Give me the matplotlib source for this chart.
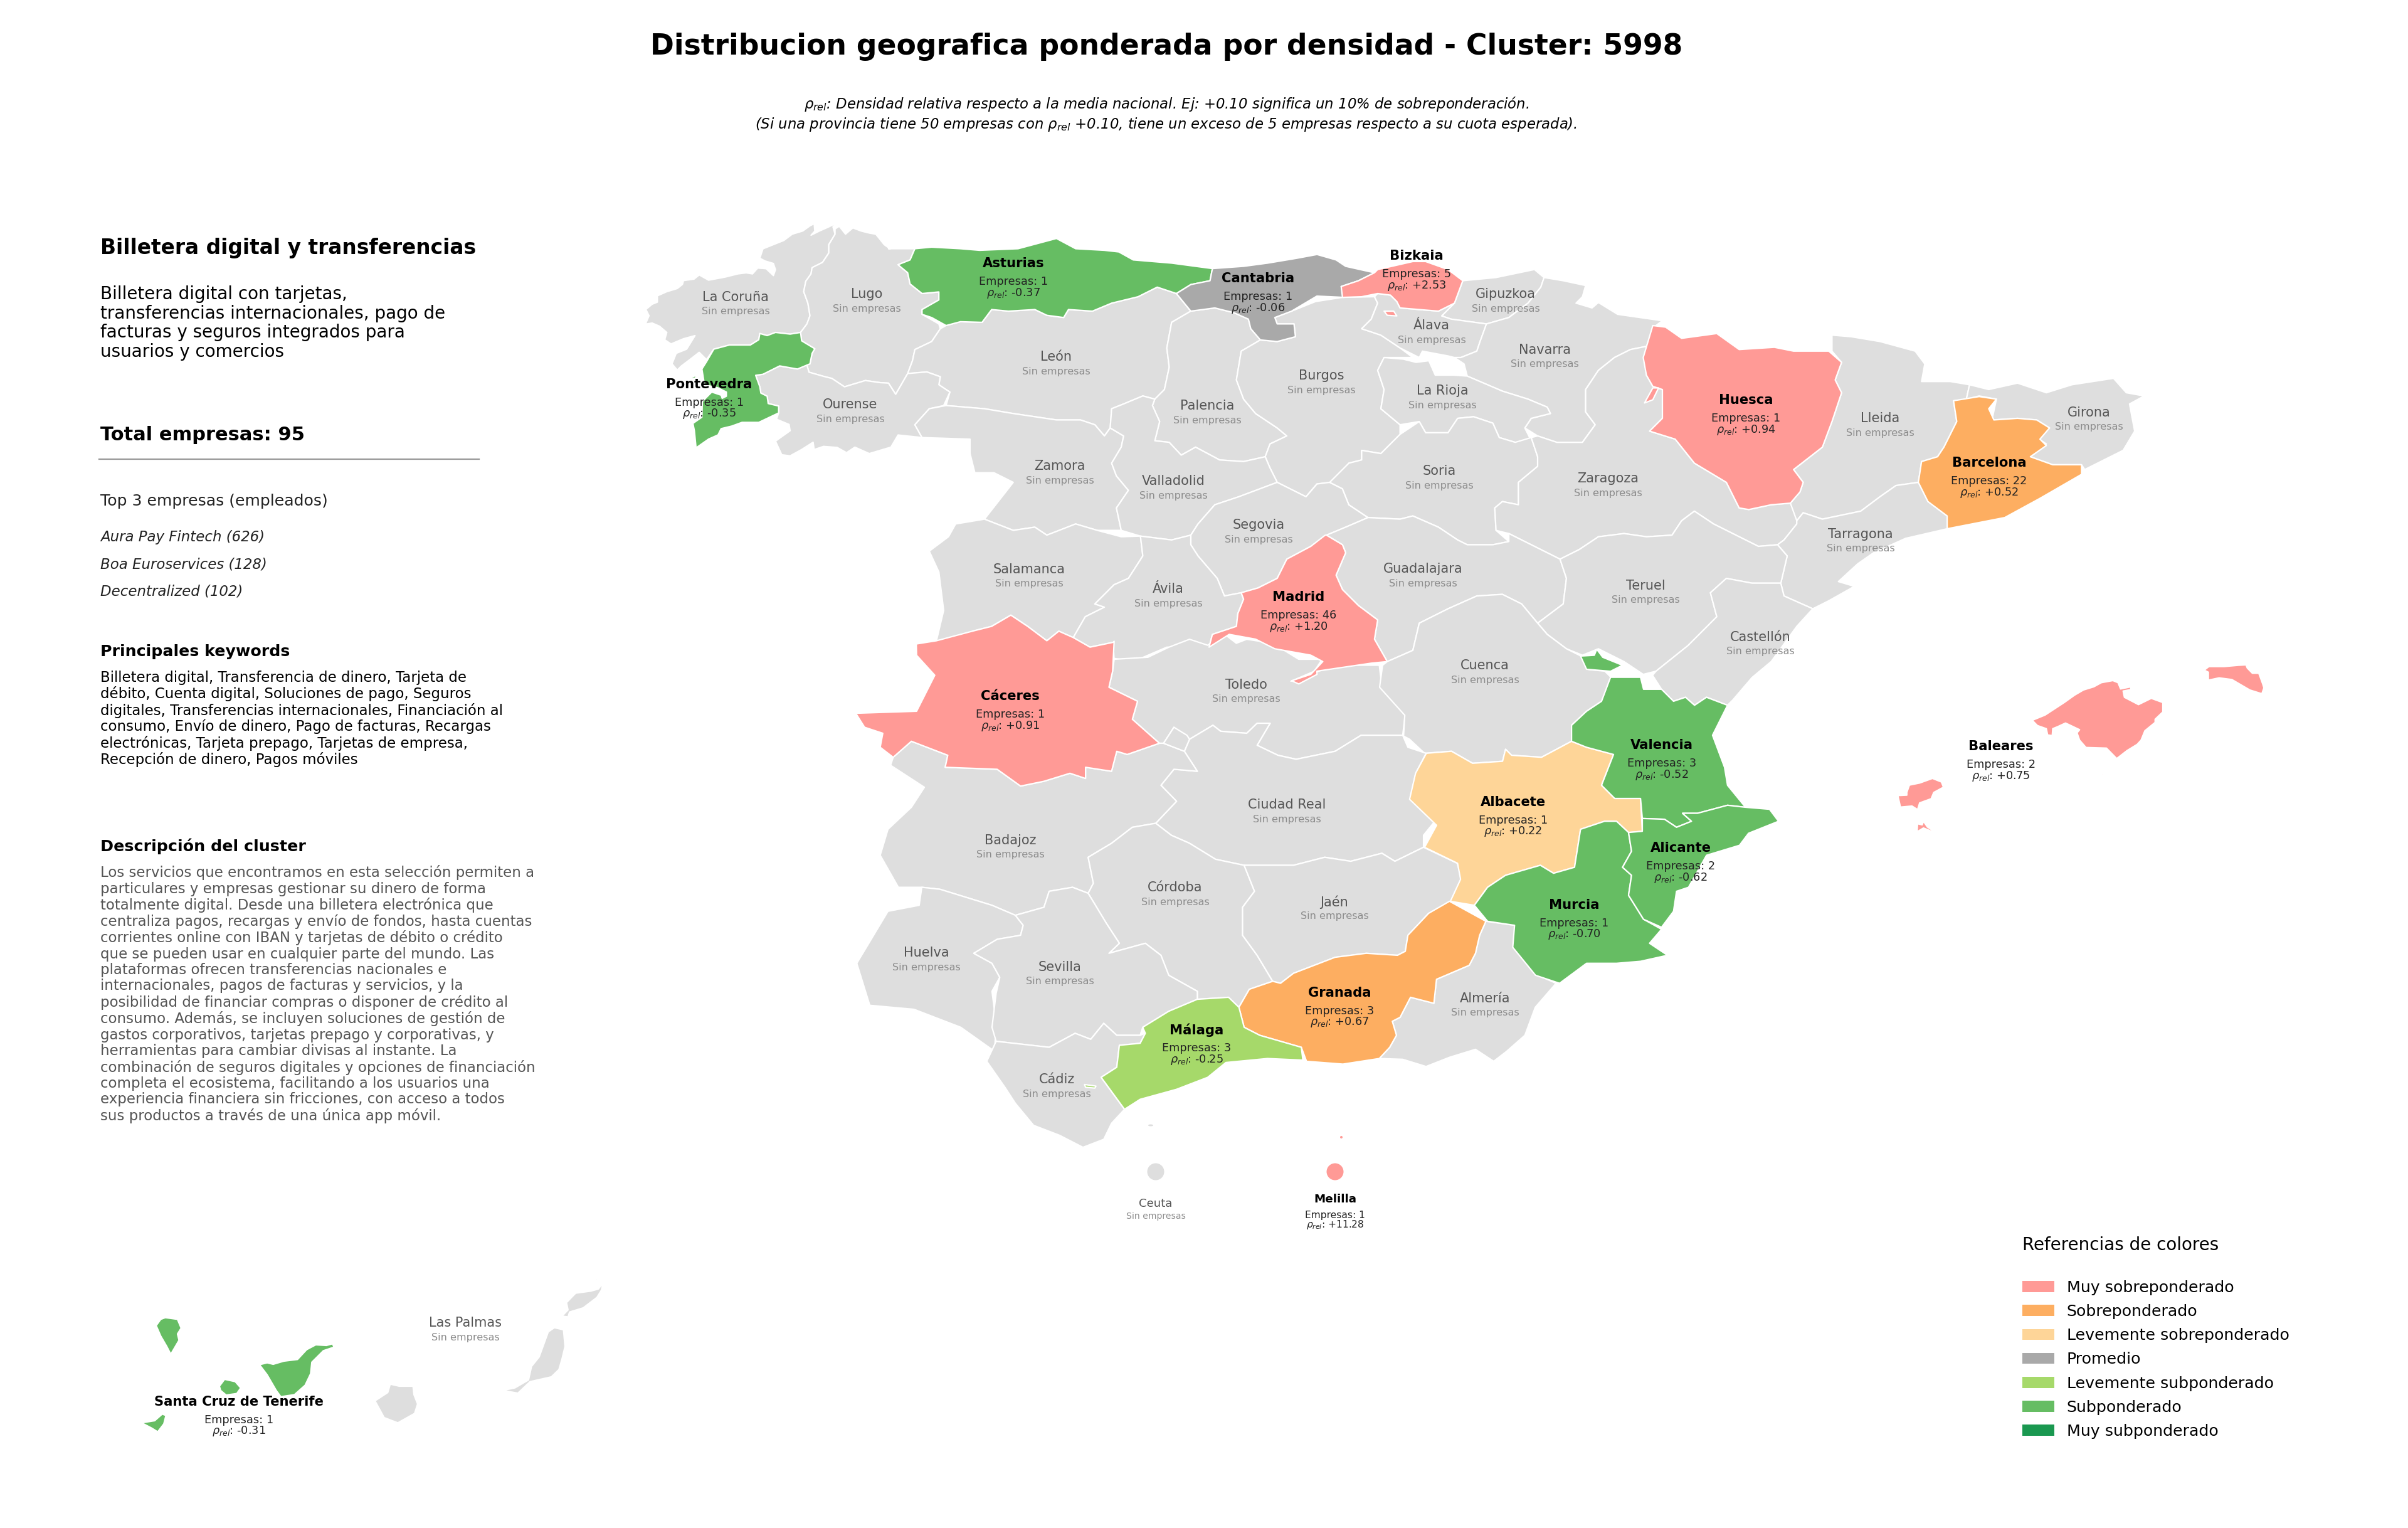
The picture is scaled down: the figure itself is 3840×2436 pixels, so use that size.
import matplotlib
matplotlib.use("Agg")
import matplotlib.pyplot as plt
from matplotlib.patches import Patch, Ellipse

# hojas ampliadas sobre las que se leyeron los contornos: x0, y0, escala x, escala y
HOJAS = {
    "NO": (950, 320, 1200 / 1568, 800 / 1568),
    "NE": (2100, 320, 1600 / 1568, 800 / 1568),
    "SO": (1300, 1000, 1300 / 1568, 1000 / 1568),
    "SE": (2200, 1000, 1500 / 1568, 1000 / 1568),
    "GA": (1020, 340, 1 / 3, 1 / 3),
    "BA": (3000, 1040, 640 / 1568, 1 / 3),
    "CI": (220, 2020, 760 / 1568, 1 / 3),
}


def hoja(nombre, puntos):
    x0, y0, sx, sy = HOJAS[nombre]
    return [(x0 + sx * x, y0 + sy * y) for x, y in puntos]


# contornos de provincias
la_coruna = hoja("GA", [(28, 530), (45, 490), (30, 460), (60, 435), (85, 425), (85, 395), (130, 375), (180, 360), (205, 340), (210, 322), (260, 315), (285, 295), (330, 320), (410, 305), (470, 290), (510, 285), (540, 290), (565, 262), (605, 265), (640, 298), (650, 270), (640, 240), (600, 228), (575, 215), (590, 170), (640, 150), (690, 130), (730, 100), (780, 85), (815, 60), (835, 50), (838, 85), (820, 105), (860, 85), (905, 65), (945, 45), (925, 65), (935, 100), (905, 150), (905, 190), (875, 235), (825, 260), (820, 290), (795, 325), (785, 375), (805, 430), (815, 490), (800, 530), (770, 570), (720, 578), (650, 570), (610, 585), (575, 575), (570, 605), (530, 630), (430, 630), (355, 650), (320, 700), (285, 665), (240, 700), (200, 730), (180, 750), (155, 720), (175, 670), (225, 650), (265, 585), (210, 600), (150, 625), (120, 605), (130, 570), (95, 540), (60, 525)])
lugo = hoja("GA", [(935, 75), (955, 62), (985, 100), (1020, 70), (1060, 85), (1100, 95), (1130, 100), (1170, 150), (1198, 170)]) + hoja("NO", [(610, 150), (665, 150), (655, 185), (630, 200), (650, 225), (655, 260), (680, 290), (715, 285), (715, 310), (680, 340), (680, 355), (715, 385), (718, 400), (700, 440), (665, 465), (660, 500), (650, 540), (625, 605), (610, 570)]) + hoja("GA", [(1150, 810), (1080, 800), (1030, 815), (980, 830), (920, 790), (880, 780), (810, 760), (800, 725), (815, 720), (825, 670), (838, 648), (775, 610), (770, 570), (800, 530), (815, 490), (805, 430), (785, 375), (795, 325), (820, 290), (825, 260), (875, 235), (905, 190), (905, 150), (935, 100)])
pontevedra = hoja("GA", [(770, 570), (775, 610), (838, 648), (825, 670), (815, 720), (755, 745), (670, 730), (590, 770), (555, 775), (575, 830), (580, 860), (610, 875), (615, 910), (665, 922), (665, 955), (570, 1000), (490, 1000), (440, 1018), (390, 1030), (375, 1060), (330, 1080), (270, 1122), (262, 1040), (255, 1005), (298, 975), (300, 900), (345, 855), (390, 870), (395, 885), (415, 875), (415, 855), (375, 835), (310, 820), (298, 745), (320, 710), (355, 650), (430, 630), (530, 630), (570, 605), (575, 575), (610, 585), (650, 570), (720, 578)])
pontevedra_ons = hoja("GA", [(235, 790), (255, 782), (270, 775), (268, 788), (245, 792)])
ourense = hoja("GA", [(555, 775), (590, 770), (670, 730), (755, 745), (800, 725), (810, 760), (880, 780), (920, 790), (980, 830), (1030, 815), (1080, 800), (1150, 810)]) + hoja("NO", [(610, 570), (625, 605), (650, 540), (690, 535), (718, 550), (715, 575), (738, 598), (725, 640), (695, 650), (665, 700), (680, 740), (630, 732), (615, 770), (570, 790), (540, 770)]) + hoja("GA", [(990, 1145), (945, 1120), (880, 1115), (835, 1130), (830, 1095), (775, 1130), (720, 1160), (680, 1155), (650, 1090), (720, 1040), (715, 1010), (655, 985), (665, 955), (665, 922), (615, 910), (610, 875), (580, 860), (575, 830)])
asturias = hoja("NO", [(665, 150), (700, 145), (760, 150), (800, 155), (880, 150), (930, 130), (960, 118), (1000, 150), (1060, 155), (1090, 160), (1120, 185), (1200, 195), (1285, 212), (1280, 250), (1240, 262), (1210, 290), (1170, 270), (1130, 300), (1075, 320), (1035, 345), (985, 340), (975, 365), (940, 358), (915, 340), (860, 345), (825, 340), (805, 380), (760, 378), (730, 390), (700, 365), (680, 355), (680, 340), (715, 310), (715, 285), (680, 290), (655, 260), (650, 225), (630, 200), (655, 185)])
cantabria = hoja("NO", [(1285, 212), (1350, 205), (1400, 195), (1460, 180), (1503, 168)]) + hoja("NE", [(30, 185), (45, 205), (90, 225), (65, 250), (38, 268), (42, 302), (0, 298)]) + hoja("NO", [(1450, 345), (1415, 365), (1420, 385), (1455, 385), (1458, 425), (1420, 440), (1385, 435), (1365, 400), (1360, 370), (1330, 350), (1290, 335), (1240, 345), (1210, 290), (1240, 262), (1280, 250)])
leon = hoja("NO", [(730, 390), (760, 378), (805, 380), (825, 340), (860, 345), (915, 340), (940, 358), (975, 365), (985, 340), (1035, 345), (1075, 320), (1130, 300), (1170, 270), (1210, 290), (1240, 345), (1200, 380), (1190, 460), (1195, 520), (1185, 590), (1165, 620), (1140, 610), (1100, 635), (1075, 650), (1072, 710), (1060, 735), (1040, 700), (1010, 685), (960, 685), (870, 665), (810, 650), (730, 640), (738, 598), (715, 575), (718, 550), (690, 535), (650, 540), (660, 500), (665, 465), (700, 440), (718, 400)])
palencia = hoja("NO", [(1240, 345), (1290, 335), (1330, 350), (1360, 370), (1365, 400), (1385, 435), (1345, 470), (1335, 560), (1350, 620), (1375, 665), (1400, 690), (1420, 710), (1440, 735), (1405, 760), (1395, 800), (1350, 815), (1300, 810), (1250, 770), (1220, 795), (1195, 755), (1165, 750), (1175, 690), (1160, 640), (1165, 620), (1185, 590), (1195, 520), (1190, 460), (1200, 380)])
burgos = hoja("NO", [(1385, 435), (1420, 440), (1458, 425), (1455, 385), (1420, 385), (1415, 365), (1450, 345), (1500, 315)]) + hoja("NE", [(40, 302), (90, 300), (95, 320), (85, 370), (70, 400), (100, 420), (130, 460), (150, 490), (105, 490), (95, 530), (105, 590), (100, 650), (130, 700), (130, 730), (100, 790), (70, 780), (70, 810), (50, 820), (25, 880), (0, 885)]) + hoja("NO", [(1480, 925), (1420, 880), (1405, 835), (1395, 800), (1405, 760), (1440, 735), (1420, 710), (1400, 690), (1375, 665), (1350, 620), (1335, 560), (1345, 470)])
alava = hoja("NE", [(70, 400), (85, 370), (95, 320), (90, 300), (95, 290), (115, 295), (125, 315), (130, 335), (190, 345), (215, 320), (195, 360), (210, 370), (265, 385), (255, 440), (250, 470), (225, 490), (215, 490), (205, 485), (165, 470), (160, 490), (130, 460), (100, 420)])
bizkaia = hoja("NE", [(90, 225), (95, 215), (150, 190), (170, 190), (205, 215), (228, 250), (215, 320), (190, 345), (130, 335), (125, 315), (115, 295), (95, 290), (70, 300), (40, 302), (38, 268), (65, 250)])
bizkaia_enclave = hoja("NE", [(105, 345), (120, 345), (125, 360), (110, 358)])
gipuzkoa = hoja("NE", [(228, 250), (280, 240), (340, 215), (355, 240), (350, 270), (330, 320), (300, 365), (265, 385), (210, 370), (195, 360), (215, 320)])
navarra = hoja("NE", [(355, 240), (385, 250), (420, 265), (415, 300), (405, 320), (430, 335), (440, 318), (470, 355), (540, 375), (530, 390), (515, 455), (490, 465), (465, 490), (440, 530), (420, 590), (420, 660), (435, 700), (415, 755), (375, 755), (345, 735), (325, 710), (335, 680), (365, 665), (360, 645), (330, 620), (290, 595), (235, 548), (230, 510), (215, 490), (225, 490), (250, 470), (255, 440), (265, 385), (300, 365), (330, 320), (350, 270)])
la_rioja = hoja("NE", [(105, 490), (135, 495), (155, 505), (175, 500), (185, 545), (215, 545), (235, 548), (290, 595), (330, 620), (360, 645), (365, 665), (335, 680), (325, 710), (335, 750), (310, 755), (285, 740), (275, 695), (245, 675), (220, 680), (205, 725), (170, 725), (160, 690), (130, 700), (100, 650), (105, 590), (95, 530)])
soria = hoja("NE", [(130, 730), (160, 690), (170, 725), (205, 725), (220, 680), (245, 675), (275, 695), (285, 740), (310, 755), (335, 740), (345, 800), (345, 830), (315, 880), (315, 950), (290, 940), (278, 960), (280, 1030), (300, 1065), (275, 1075), (235, 1075), (220, 1060), (190, 1020), (150, 985), (130, 995), (80, 990), (50, 950), (40, 900), (20, 880), (50, 820), (70, 810), (70, 780), (100, 790)])
zaragoza = hoja("NE", [(335, 740), (345, 735), (375, 755), (415, 755), (435, 700), (420, 660), (420, 590), (440, 530), (465, 490), (490, 465), (515, 455), (515, 545), (525, 580), (540, 590), (540, 680), (520, 720), (560, 745), (590, 820), (640, 880), (660, 960), (675, 965), (710, 950), (740, 945), (750, 980), (750, 1010), (730, 1060), (720, 1075), (690, 1080), (620, 1010), (590, 970), (570, 1000), (555, 1045), (515, 1050), (480, 1040), (440, 1050), (410, 1090), (380, 1120), (340, 1080), (300, 1040), (280, 1030), (278, 960), (290, 940), (315, 950), (315, 880), (345, 830), (345, 800)])
huesca = hoja("NE", [(525, 390), (545, 395), (570, 430), (625, 415), (660, 465), (715, 458), (745, 470), (800, 470), (820, 505), (810, 560), (820, 600), (805, 690), (790, 770), (745, 840), (760, 880), (755, 910), (740, 945), (710, 950), (675, 965), (660, 960), (640, 880), (590, 820), (560, 745), (520, 720), (540, 680), (540, 590), (525, 580), (515, 545), (510, 490)])
huesca_franja = hoja("NE", [(512, 632), (525, 585), (534, 585), (525, 622)])
lleida = hoja("NE", [(805, 420), (835, 425), (880, 440), (935, 470), (950, 510), (945, 565), (990, 565), (1020, 575), (1015, 620), (995, 625), (1000, 690), (980, 770), (970, 800), (945, 815), (940, 880), (905, 890), (880, 925), (850, 970), (790, 995), (760, 975), (750, 1000), (740, 945), (755, 910), (760, 880), (745, 840), (790, 770), (805, 690), (820, 600), (810, 560), (820, 505), (805, 470)])
girona = hoja("NE", [(1020, 575), (1050, 590), (1095, 570), (1140, 600), (1180, 575), (1245, 555), (1265, 600), (1293, 610), (1270, 635), (1278, 720), (1260, 780), (1200, 840), (1195, 825), (1150, 825), (1115, 800), (1140, 760), (1125, 740), (1145, 710), (1125, 685), (1095, 680), (1055, 685), (1062, 620), (1035, 610), (1015, 620)])
barcelona = hoja("NE", [(995, 625), (1035, 612), (1062, 620), (1050, 650), (1058, 685), (1095, 680), (1125, 685), (1145, 710), (1130, 745), (1140, 765), (1115, 800), (1150, 825), (1195, 825), (1195, 855), (1130, 930), (1075, 990), (985, 1025), (985, 985), (955, 940), (940, 880), (945, 815), (970, 800), (980, 770), (1000, 690)])
tarragona = hoja("NE", [(880, 925), (905, 890), (940, 880), (955, 940), (985, 985), (985, 1025), (920, 1055), (870, 1100), (845, 1135), (815, 1190), (840, 1205), (800, 1250), (775, 1275), (730, 1235), (725, 1195), (735, 1110), (720, 1075), (730, 1060), (750, 1010), (750, 1000), (760, 975), (790, 995), (850, 970)])
teruel = hoja("NE", [(380, 1120), (410, 1090), (440, 1050), (480, 1040), (515, 1050), (555, 1045), (570, 1000), (590, 970), (620, 1010), (690, 1080), (720, 1075), (735, 1110), (725, 1195), (680, 1195), (640, 1180), (615, 1225), (625, 1300), (580, 1390), (530, 1470), (510, 1480), (480, 1440), (440, 1400), (415, 1420), (390, 1400), (360, 1355), (345, 1320), (385, 1260), (390, 1180)])
castellon = hoja("NE", [(615, 1225), (640, 1180), (680, 1195), (725, 1195), (730, 1235), (775, 1275), (750, 1330), (710, 1440), (680, 1490), (650, 1560)]) + hoja("SE", [(580, 195), (545, 175), (525, 195), (510, 175), (490, 185), (470, 155), (455, 120)]) + hoja("NE", [(530, 1470), (580, 1390), (625, 1300)])
guadalajara = hoja("NE", [(15, 1045), (45, 1020), (80, 990), (130, 995), (150, 985), (190, 1020), (220, 1060), (235, 1075), (275, 1075), (300, 1065), (300, 1040), (340, 1080), (380, 1120), (390, 1180), (385, 1260), (345, 1320), (320, 1260), (290, 1230), (250, 1235), (205, 1275), (160, 1320), (150, 1405), (110, 1440), (90, 1370), (95, 1310), (65, 1265), (40, 1215), (30, 1170), (45, 1100), (40, 1075)])
cuenca = hoja("NE", [(110, 1440), (150, 1405), (160, 1320), (205, 1275), (250, 1235), (290, 1230), (320, 1260), (345, 1320), (360, 1355), (390, 1400), (415, 1425), (425, 1465), (450, 1470), (460, 1490)]) + hoja("SE", [(370, 185), (345, 210), (320, 245), (320, 285), (270, 325), (220, 320), (210, 305), (205, 335), (155, 340), (120, 310), (75, 315), (50, 280), (40, 272), (42, 220), (0, 150), (5, 95)])
madrid = hoja("NO", [(1520, 1045), (1490, 1080), (1440, 1120), (1420, 1180), (1380, 1210), (1345, 1225), (1350, 1245), (1338, 1290), (1335, 1330), (1285, 1355), (1278, 1395), (1320, 1355), (1375, 1370), (1415, 1400), (1490, 1420), (1515, 1440), (1490, 1480), (1450, 1500), (1465, 1510), (1503, 1480)]) + hoja("NE", [(0, 1470), (85, 1445), (110, 1440), (90, 1370), (95, 1310), (65, 1265), (40, 1215), (30, 1170), (45, 1100), (40, 1075), (15, 1045)])
segovia = hoja("NO", [(1240, 1045), (1255, 1010), (1290, 950), (1340, 925), (1420, 880), (1480, 925), (1503, 885)]) + hoja("NE", [(20, 880), (40, 900), (50, 950), (80, 990), (45, 1020), (15, 1045)]) + hoja("NO", [(1490, 1080), (1440, 1120), (1420, 1180), (1380, 1210), (1345, 1225), (1310, 1235), (1295, 1180), (1255, 1110), (1240, 1075)])
valladolid = hoja("NO", [(1075, 820), (1095, 770), (1100, 735), (1072, 710), (1075, 650), (1100, 635), (1140, 610), (1165, 620), (1160, 640), (1175, 690), (1165, 750), (1195, 755), (1220, 795), (1250, 770), (1300, 810), (1350, 815), (1395, 800), (1405, 835), (1420, 880), (1340, 925), (1290, 950), (1255, 1010), (1240, 1045), (1200, 1060), (1135, 1048), (1095, 1030), (1085, 960), (1110, 905), (1085, 860)])
zamora = hoja("NO", [(730, 640), (810, 650), (870, 665), (960, 685), (1010, 685), (1040, 700), (1060, 735), (1072, 710), (1100, 735), (1095, 770), (1075, 820), (1085, 860), (1110, 905), (1085, 960), (1095, 1030), (1045, 1030), (1000, 1010), (940, 1045), (915, 1020), (870, 1030), (810, 995), (870, 880), (830, 850), (790, 850), (780, 790), (780, 745), (680, 740), (665, 700), (695, 650)])
salamanca = hoja("NO", [(810, 995), (870, 1030), (915, 1020), (940, 1045), (1000, 1010), (1045, 1030), (1095, 1050), (1135, 1048), (1140, 1110), (1110, 1180), (1080, 1200), (1040, 1260), (1060, 1270), (1020, 1300), (995, 1365), (965, 1345), (940, 1375), (900, 1330), (865, 1295), (825, 1330), (785, 1345), (780, 1375), (735, 1375), (710, 1375), (725, 1280), (715, 1160), (695, 1095), (735, 1050), (750, 1010)])
avila = hoja("NO", [(1135, 1048), (1200, 1060), (1240, 1045), (1240, 1075), (1255, 1110), (1295, 1180), (1310, 1235), (1345, 1225), (1350, 1245), (1338, 1290), (1335, 1330), (1285, 1355), (1278, 1395), (1250, 1395), (1190, 1395), (1120, 1440), (1080, 1430), (1078, 1380), (1030, 1395), (995, 1365), (1020, 1300), (1060, 1270), (1040, 1260), (1080, 1200), (1110, 1180), (1140, 1110)])
caceres = hoja("NO", [(668, 1385), (710, 1375), (785, 1345), (825, 1330), (865, 1295), (900, 1330), (940, 1375), (965, 1345), (995, 1365), (1030, 1395), (1078, 1380)]) + hoja("SO", [(575, 35), (572, 110), (565, 150), (620, 185), (610, 230), (662, 290), (600, 318), (580, 310), (570, 360), (520, 350), (520, 378), (490, 365), (440, 385), (395, 397), (350, 355), (250, 350), (255, 320), (185, 285), (150, 325), (125, 300), (130, 265), (95, 250), (78, 215), (195, 210), (230, 120), (195, 70)])
toledo = hoja("SO", [(575, 80), (640, 75), (680, 50), (720, 30), (755, 45), (785, 15), (810, 40), (830, 30), (880, 40), (930, 80), (975, 80), (960, 110), (915, 135), (1000, 95), (1085, 95), (1090, 150), (1135, 215), (1130, 270), (1050, 270), (1000, 310), (925, 330), (890, 320), (850, 295), (875, 240), (850, 240), (830, 265), (780, 260), (765, 245), (720, 280), (690, 250), (670, 290), (662, 290), (610, 230), (620, 185), (565, 150), (572, 110)])
ciudad_real = hoja("SO", [(720, 280), (765, 245), (780, 260), (830, 265), (850, 240), (875, 240), (850, 295), (890, 320), (925, 330), (1000, 310), (1050, 270), (1130, 270), (1140, 300), (1175, 315), (1155, 365), (1145, 425), (1195, 480), (1170, 520), (1170, 550), (1115, 585), (1090, 565), (1030, 585), (980, 575), (920, 595), (825, 595), (770, 580), (720, 540), (685, 520), (655, 490), (695, 435), (665, 395), (690, 355), (735, 360), (710, 310)])
badajoz = hoja("SO", [(150, 325), (185, 285), (255, 320), (250, 350), (350, 355), (395, 397), (440, 385), (490, 365), (520, 378), (520, 350), (570, 360), (580, 310), (600, 318), (662, 290), (670, 290), (710, 310), (735, 360), (690, 355), (665, 395), (695, 435), (655, 490), (610, 500), (570, 540), (525, 575), (535, 640), (525, 665), (495, 650), (450, 660), (440, 700), (385, 720), (340, 695), (240, 655), (205, 650), (160, 650), (125, 570), (140, 505), (185, 450), (210, 400), (145, 345)])
badajoz_enclave = hoja("SO", [(690, 250), (715, 270), (720, 280), (710, 310), (670, 290)])
huelva = hoja("SO", [(205, 650), (240, 655), (340, 695), (385, 720), (400, 745), (395, 770), (350, 780), (305, 815), (340, 840), (355, 875), (340, 910), (348, 990), (345, 1060), (280, 1000), (190, 955), (105, 945), (80, 840), (140, 710), (200, 695)])
sevilla = hoja("SO", [(385, 720), (440, 700), (450, 660), (495, 650), (525, 665), (560, 740), (585, 790), (565, 815), (635, 790), (665, 820), (680, 870), (735, 910), (735, 930), (680, 960), (630, 1000), (625, 1020), (580, 1020), (555, 990), (530, 1030), (500, 1015), (450, 1050), (348, 1035), (340, 1000), (348, 915), (355, 875), (340, 840), (305, 815), (350, 780), (395, 770), (400, 745)])
cordoba = hoja("SO", [(525, 665), (535, 640), (525, 575), (570, 540), (610, 500), (655, 490), (685, 520), (720, 540), (770, 580), (825, 595), (845, 660), (822, 700), (822, 770), (850, 820), (880, 885), (835, 905), (815, 950), (795, 925), (735, 930), (735, 910), (680, 870), (665, 820), (635, 790), (565, 815), (585, 790), (560, 740)])
jaen = hoja("SO", [(825, 595), (920, 595), (980, 575), (1030, 585), (1090, 565), (1115, 585), (1170, 550), (1235, 590), (1243, 630), (1225, 685), (1180, 715), (1140, 770), (1135, 810), (1120, 820), (1060, 815), (1000, 825), (920, 865), (895, 890), (880, 885), (850, 820), (822, 770), (822, 700), (845, 660)])
granada = hoja("SO", [(815, 950), (835, 905), (880, 885), (895, 890), (920, 865), (1000, 825), (1060, 815), (1120, 820), (1135, 810), (1140, 770), (1180, 715), (1220, 685), (1290, 735), (1278, 770), (1270, 815), (1258, 845), (1195, 880), (1190, 940), (1145, 925), (1125, 975), (1110, 985), (1118, 1020), (1105, 1050), (1085, 1078), (1015, 1092), (945, 1085), (935, 1050), (855, 1020), (825, 1000)])
malaga = hoja("SO", [(630, 1000), (680, 960), (735, 930), (795, 925), (815, 950), (825, 1000), (855, 1020), (935, 1050), (938, 1082), (870, 1078), (790, 1088), (755, 1125), (695, 1155), (625, 1180), (595, 1205), (550, 1125), (580, 1100), (585, 1045), (625, 1040), (635, 1015)])
malaga_punta = hoja("SO", [(518, 1143), (540, 1147), (538, 1152), (520, 1150)])
cadiz = hoja("SO", [(348, 1035), (450, 1050), (500, 1015), (530, 1030), (555, 990), (580, 1020), (625, 1020), (635, 1015), (625, 1040), (585, 1045), (580, 1100), (550, 1125), (595, 1205), (570, 1240), (555, 1280), (515, 1300), (470, 1270), (420, 1245), (385, 1190), (365, 1150), (330, 1085)])
almeria = hoja("SO", [(1105, 1050), (1118, 1020), (1110, 985), (1125, 975), (1145, 925), (1190, 940), (1195, 880), (1258, 845), (1270, 815), (1278, 770), (1290, 735), (1345, 745), (1345, 800), (1390, 870), (1425, 890), (1385, 950), (1365, 1020), (1330, 1060), (1305, 1085), (1270, 1055), (1220, 1075), (1175, 1098), (1130, 1080), (1085, 1078)])
albacete = hoja("SE", [(78, 315), (120, 310), (155, 340), (205, 335), (210, 305), (220, 320), (270, 325), (320, 285), (345, 300), (390, 318), (370, 395), (392, 428), (435, 428), (438, 510), (415, 513), (395, 485), (375, 485), (335, 505), (325, 600), (290, 615), (268, 595), (210, 620), (180, 650), (158, 695), (118, 685), (135, 630), (130, 590), (75, 550), (95, 495), (50, 430), (60, 365)])
valencia = hoja("SE", [(385, 125), (435, 125), (440, 155), (470, 155), (490, 185), (510, 175), (525, 195), (545, 175), (580, 195), (555, 270), (575, 350), (580, 395), (610, 450), (580, 445), (530, 465), (505, 465), (520, 485), (495, 500), (475, 480), (438, 478), (435, 428), (392, 428), (370, 395), (390, 318), (345, 300), (320, 285), (320, 245), (345, 210), (370, 185)])
valencia_ademuz = hoja("SE", [(335, 72), (358, 70), (362, 55), (372, 75), (405, 95), (385, 110), (345, 105)])
alicante = hoja("SE", [(438, 510), (438, 478), (475, 480), (495, 500), (520, 485), (505, 465), (530, 465), (580, 445), (610, 450), (650, 455), (665, 485), (615, 515), (600, 545), (545, 570), (515, 650), (495, 660), (490, 710), (470, 750), (440, 730), (415, 670), (420, 620), (405, 600), (420, 560), (415, 513)])
murcia = hoja("SE", [(335, 505), (375, 485), (395, 485), (415, 513), (420, 560), (405, 600), (420, 620), (415, 670), (440, 730), (470, 755), (450, 790), (480, 820), (435, 835), (395, 840), (345, 840), (300, 890), (260, 870), (222, 800), (225, 745), (180, 735), (158, 695), (180, 650), (210, 620), (268, 595), (290, 615), (325, 600)])
mallorca = hoja("BA", [(590, 325), (640, 300), (680, 268), (715, 240), (755, 205), (790, 180), (830, 165), (860, 145), (905, 135), (925, 145), (935, 175), (975, 165), (975, 178), (945, 185), (950, 215), (1005, 250), (1055, 220), (1100, 240), (1100, 285), (1070, 320), (1070, 335), (1030, 375), (1015, 420), (1000, 440), (960, 470), (920, 508), (880, 458), (800, 455), (775, 420), (765, 385), (775, 370), (720, 338), (690, 355), (670, 365), (668, 398), (650, 395), (645, 365), (610, 350)])
menorca = hoja("BA", [(1262, 85), (1280, 68), (1340, 68), (1395, 62), (1425, 60), (1430, 75), (1450, 100), (1475, 100), (1490, 150), (1495, 170), (1487, 198), (1440, 180), (1370, 130), (1320, 122), (1278, 133), (1278, 95)])
ibiza = hoja("BA", [(100, 670), (110, 635), (150, 625), (200, 603), (235, 620), (243, 645), (205, 670), (195, 700), (150, 720), (142, 752), (120, 735), (75, 740), (65, 685), (100, 683)])
formentera = hoja("BA", [(140, 858), (142, 820), (160, 825), (165, 808), (180, 835), (205, 855), (225, 850), (225, 856), (195, 855), (165, 840)])
cabrera = hoja("BA", [(858, 583), (866, 578), (868, 587)])
la_palma = hoja("CI", [(60, 280), (75, 250), (90, 242), (130, 250), (142, 292), (130, 320), (135, 350), (108, 417), (95, 380), (75, 330)])
la_gomera = hoja("CI", [(268, 570), (285, 537), (320, 548), (338, 578), (325, 605), (290, 612), (272, 590)])
tenerife = hoja("CI", [(400, 467), (425, 458), (445, 465), (480, 450), (525, 442), (555, 395), (585, 372), (620, 375), (640, 367), (645, 383), (610, 400), (572, 455), (568, 510), (550, 565), (515, 610), (470, 620), (455, 590), (425, 515)])
el_hierro = hoja("CI", [(12, 745), (55, 735), (80, 703), (92, 710), (85, 750), (65, 788), (45, 770)])
gran_canaria = hoja("CI", [(780, 640), (822, 600), (830, 560), (860, 570), (905, 570), (908, 610), (920, 655), (910, 700), (855, 745), (810, 720)])
fuerteventura = hoja("CI", [(1200, 590), (1240, 578), (1285, 540), (1295, 475), (1320, 430), (1350, 310), (1370, 290), (1400, 300), (1405, 380), (1395, 440), (1385, 490), (1360, 525), (1290, 548), (1250, 603)])
lanzarote = hoja("CI", [(1395, 235), (1415, 205), (1410, 170), (1440, 125), (1490, 115), (1515, 105), (1530, 75), (1525, 110), (1510, 145), (1465, 195), (1420, 215), (1415, 238)])
graciosa = hoja("CI", [(1500, 68), (1510, 50), (1512, 60)])

# provincias sin empresas: nombre, partes, posicion de la etiqueta
sin_empresas = [
    ("La Coruña", [la_coruna], 1173, 474), ("Lugo", [lugo], 1382, 469), ("León", [leon], 1684, 569),
    ("Ourense", [ourense], 1356, 645), ("Palencia", [palencia], 1925, 647), ("Burgos", [burgos], 2107, 599),
    ("Zamora", [zamora], 1690, 743), ("Valladolid", [valladolid], 1871, 767), ("Segovia", [segovia], 2007, 837),
    ("Salamanca", [salamanca], 1641, 908), ("Ávila", [avila], 1863, 939), ("Toledo", [toledo], 1987, 1092),
    ("Gipuzkoa", [gipuzkoa], 2401, 469), ("Álava", [alava], 2283, 519), ("Navarra", [navarra], 2463, 558),
    ("La Rioja", [la_rioja], 2300, 623), ("Soria", [soria], 2295, 751), ("Zaragoza", [zaragoza], 2564, 763),
    ("Lleida", [lleida], 2998, 667), ("Girona", [girona], 3331, 658), ("Tarragona", [tarragona], 2967, 852),
    ("Guadalajara", [guadalajara], 2269, 907), ("Teruel", [teruel], 2624, 934), ("Cuenca", [cuenca], 2368, 1061),
    ("Castellón", [castellon], 2807, 1016), ("Ciudad Real", [ciudad_real], 2052, 1283),
    ("Badajoz", [badajoz, badajoz_enclave], 1611, 1340), ("Córdoba", [cordoba], 1874, 1415), ("Jaén", [jaen], 2128, 1438),
    ("Huelva", [huelva], 1477, 1519), ("Sevilla", [sevilla], 1690, 1542), ("Almería", [almeria], 2368, 1592),
    ("Cádiz", [cadiz], 1685, 1721), ("Las Palmas", [gran_canaria, fuerteventura, lanzarote, graciosa], 742, 2109),
]

# provincias con empresas: nombre, partes, empresas, rho, categoria, posicion de la etiqueta
con_empresas = [
    ("Asturias", [asturias], 1, "-0.37", 5, 1616, 420),
    ("Cantabria", [cantabria], 1, "-0.06", 3, 2006, 444),
    ("Pontevedra", [pontevedra, pontevedra_ons], 1, "-0.35", 5, 1131, 613),
    ("Madrid", [madrid], 46, "+1.20", 0, 2071, 952),
    ("Bizkaia", [bizkaia, bizkaia_enclave], 5, "+2.53", 0, 2259, 408),
    ("Huesca", [huesca, huesca_franja], 1, "+0.94", 0, 2784, 638),
    ("Barcelona", [barcelona], 22, "+0.52", 1, 3172, 738),
    ("Cáceres", [caceres], 1, "+0.91", 0, 1611, 1110),
    ("Albacete", [albacete], 1, "+0.22", 2, 2413, 1279),
    ("Granada", [granada], 3, "+0.67", 1, 2136, 1583),
    ("Málaga", [malaga, malaga_punta], 3, "-0.25", 4, 1908, 1642),
    ("Murcia", [murcia], 1, "-0.70", 5, 2510, 1443),
    ("Valencia", [valencia, valencia_ademuz], 3, "-0.52", 5, 2650, 1188),
    ("Alicante", [alicante], 2, "-0.62", 5, 2680, 1352),
    ("Baleares", [mallorca, menorca, ibiza, formentera, cabrera], 2, "+0.75", 0, 3191, 1190),
    ("Santa Cruz de Tenerife", [la_palma, la_gomera, tenerife, el_hierro], 1, "-0.31", 5, 381, 2235),
]

categorias = ["Muy sobreponderado", "Sobreponderado", "Levemente sobreponderado", "Promedio",
              "Levemente subponderado", "Subponderado", "Muy subponderado"]
colores = ["#ff9a96", "#fdae61", "#fed598", "#a9a9a9", "#a6d96a", "#66bd63", "#1a9850"]
GRIS = "#dedede"

subtitulo = ("$\\rho_{rel}$: Densidad relativa respecto a la media nacional. Ej: +0.10 significa un 10% de sobreponderación.\n"
             "(Si una provincia tiene 50 empresas con $\\rho_{rel}$ +0.10, tiene un exceso de 5 empresas respecto a su cuota esperada).")
resumen = ("Billetera digital con tarjetas,\ntransferencias internacionales, pago de\n"
           "facturas y seguros integrados para\nusuarios y comercios")
top_empresas = ["Aura Pay Fintech (626)", "Boa Euroservices (128)", "Decentralized (102)"]
keywords = ("Billetera digital, Transferencia de dinero, Tarjeta de\n"
            "débito, Cuenta digital, Soluciones de pago, Seguros\n"
            "digitales, Transferencias internacionales, Financiación al\n"
            "consumo, Envío de dinero, Pago de facturas, Recargas\n"
            "electrónicas, Tarjeta prepago, Tarjetas de empresa,\n"
            "Recepción de dinero, Pagos móviles")
descripcion = ("Los servicios que encontramos en esta selección permiten a\n"
               "particulares y empresas gestionar su dinero de forma\n"
               "totalmente digital. Desde una billetera electrónica que\n"
               "centraliza pagos, recargas y envío de fondos, hasta cuentas\n"
               "corrientes online con IBAN y tarjetas de débito o crédito\n"
               "que se pueden usar en cualquier parte del mundo. Las\n"
               "plataformas ofrecen transferencias nacionales e\n"
               "internacionales, pagos de facturas y servicios, y la\n"
               "posibilidad de financiar compras o disponer de crédito al\n"
               "consumo. Además, se incluyen soluciones de gestión de\n"
               "gastos corporativos, tarjetas prepago y corporativas, y\n"
               "herramientas para cambiar divisas al instante. La\n"
               "combinación de seguros digitales y opciones de financiación\n"
               "completa el ecosistema, facilitando a los usuarios una\n"
               "experiencia financiera sin fricciones, con acceso a todos\n"
               "sus productos a través de una única app móvil.")

fig = plt.figure(figsize=(19.2, 12.18), dpi=200)
ax = fig.add_axes([0, 0, 1, 1])
ax.set_xlim(0, 3840)
ax.set_ylim(2436, 0)
ax.axis("off")


def dibuja(partes, color):
    for parte in partes:
        xs, ys = zip(*parte)
        ax.fill(xs, ys, facecolor=color, edgecolor="white", linewidth=0.8, joinstyle="round")


def etiqueta_gris(nombre, x, y, escala=1.0):
    ax.text(x, y, nombre, ha="center", va="center", fontsize=7.5 * escala, color="#555555")
    ax.text(x, y + 23 * escala, "Sin empresas", ha="center", va="center", fontsize=5.8 * escala, color="#8c8c8c")


def etiqueta_color(nombre, x, y, n, rho, escala=1.0):
    ax.text(x, y, nombre, ha="center", va="center", fontsize=7.6 * escala, fontweight="bold", color="black")
    ax.text(x, y + 29 * escala, f"Empresas: {n}", ha="center", va="center", fontsize=6.4 * escala, color="#222222")
    ax.text(x, y + 47 * escala, f"$\\rho_{{rel}}$: {rho}", ha="center", va="center", fontsize=6.4 * escala, color="#222222")


for nombre, partes, x, y in sin_empresas:
    dibuja(partes, GRIS)
for nombre, partes, n, rho, cat, x, y in con_empresas:
    dibuja(partes, colores[cat])

for nombre, partes, x, y in sin_empresas:
    etiqueta_gris(nombre, x, y)
for nombre, partes, n, rho, cat, x, y in con_empresas:
    etiqueta_color(nombre, x, y, n, rho)

# Ceuta y Melilla como circulos, y los dos islotes del mar de Alboran
ax.add_patch(Ellipse((1843, 1868), 27, 27, facecolor=GRIS, edgecolor="none"))
ax.add_patch(Ellipse((2129, 1868), 27, 27, facecolor=colores[0], edgecolor="none"))
ax.add_patch(Ellipse((1835, 1794), 8, 3, facecolor=GRIS, edgecolor="none"))
ax.add_patch(Ellipse((2139, 1813), 4, 4, facecolor=colores[0], edgecolor="none"))
etiqueta_gris("Ceuta", 1843, 1919, 0.87)
etiqueta_color("Melilla", 2129, 1912, 1, "+11.28", 0.87)

fig.text(0.4845, 0.9695, "Distribucion geografica ponderada por densidad - Cluster: 5998", ha="center", va="center",
         fontsize=16.45, fontweight="bold")
ax.text(1860, 182, subtitulo, ha="center", va="center", fontsize=8.2, style="italic", linespacing=1.2)

# panel izquierdo
ax.text(160, 396, "Billetera digital y transferencias", va="center", fontsize=11.85, fontweight="bold")
ax.text(160, 515, resumen, va="center", fontsize=10, linespacing=1.11)
ax.text(160, 694, "Total empresas: 95", va="center", fontsize=11, fontweight="bold")
ax.plot([158, 764], [732, 732], color="#999999", linewidth=0.8)
ax.text(160, 799, "Top 3 empresas (empleados)", va="center", fontsize=9.05, color="#222222")
for y, texto in zip([857, 900, 943], top_empresas):
    ax.text(160, y, texto, va="center", fontsize=8.25, style="italic", color="#222222")
ax.text(160, 1039, "Principales keywords", va="center", fontsize=9.1, fontweight="bold")
ax.text(160, 1146, keywords, va="center", fontsize=8.25, linespacing=1.12)
ax.text(160, 1349, "Descripción del cluster", va="center", fontsize=9.15, fontweight="bold")
ax.text(160, 1585, descripcion, va="center", fontsize=8.25, linespacing=1.13, color="#555555")

# leyenda
ax.text(3225, 1985, "Referencias de colores", va="center", fontsize=10)
manejadores = [Patch(facecolor=c, edgecolor="none", label=k) for c, k in zip(colores, categorias)]
fig.legend(handles=manejadores, loc="upper left", bbox_to_anchor=(3225 / 3840, 1 - 2041 / 2436), frameon=False,
           fontsize=9.1, labelspacing=0.56, handlelength=2.0, borderpad=0, borderaxespad=0)

fig.savefig("out.png", dpi=200)
